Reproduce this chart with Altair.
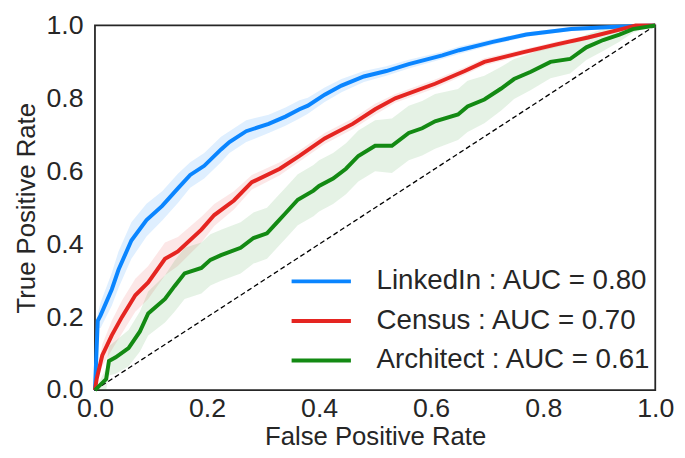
import altair as alt
import pandas as pd

# ---- data ----
labels = ["LinkedIn : AUC = 0.80", "Census : AUC = 0.70", "Architect : AUC = 0.61"]
colors = ["#0a85ff", "#e52521", "#138a13"]

linkedin_fpr = [0, .005, .01, .03, .042, .065, .092, .12, .148, .17, .195, .225, .24, .27, .31, .34, .365, .38,
                .41, .44, .48, .52, .56, .62, .65, .71, .77, .85, .94, 1.0]
linkedin_tpr = [0, .19, .205, .276, .33, .41, .466, .505, .553, .59, .615, .66, .68, .71, .73, .75, .77, .78,
                .81, .835, .86, .875, .894, .918, .932, .955, .975, .99, .997, 1.0]
linkedin_err = [0, .02, .035, .045, .05, .05, .045, .04, .04, .035, .035, .035, .03, .03, .025, .025, .025, .022,
                .02, .018, .015, .013, .012, .01, .01, .008, .006, .005, .003, 0]

census_fpr = [0, .003, .013, .03, .048, .072, .095, .125, .148, .19, .213, .248, .28, .33, .365, .41, .46,
              .50, .536, .607, .66, .695, .765, .824, .88, .94, .965, 1.0]
census_tpr = [0, .03, .095, .15, .20, .26, .295, .36, .38, .44, .48, .52, .57, .607, .642, .69, .73,
              .77, .80, .84, .875, .9, .927, .948, .967, .99, 1.0, 1.0]
census_err = [0, .01, .03, .04, .045, .045, .045, .045, .04, .035, .03, .025, .02, .018, .015, .015, .015,
              .015, .012, .012, .01, .01, .008, .008, .006, .004, .002, 0]

architect_fpr = [0, .02, .025, .037, .06, .08, .095, .125, .142, .16, .19, .206, .225, .26, .283, .307, .325,
                 .34, .362, .39, .40, .425, .448, .47, .50, .53, .56, .584, .607, .648, .665, .695, .725,
                 .748, .778, .813, .848, .877, .907, .936, .96, 1.0]
architect_tpr = [0, .03, .08, .09, .115, .16, .21, .25, .285, .32, .335, .357, .37, .39, .417, .43, .46,
                 .485, .522, .547, .56, .58, .607, .642, .67, .67, .705, .718, .737, .756, .778, .797, .827,
                 .853, .873, .90, .908, .94, .96, .975, .99, 1.0]
architect_err = [0, .03, .04, .045, .05, .055, .06, .065, .07, .07, .07, .07, .07, .07, .07, .07, .07,
                 .07, .07, .07, .07, .07, .07, .07, .07, .075, .075, .075, .075, .07, .07, .065, .06,
                 .055, .05, .045, .04, .035, .03, .02, .01, 0]

diag = [0.0, 1.0]
tick_values = [0.0, 0.2, 0.4, 0.6, 0.8, 1.0]

series = [(labels[0], linkedin_fpr, linkedin_tpr, linkedin_err),
          (labels[1], census_fpr, census_tpr, census_err),
          (labels[2], architect_fpr, architect_tpr, architect_err)]

rows = []
for lab, fx, ty, er in series:
    for i, (a, b, e) in enumerate(zip(fx, ty, er)):
        rows.append({"model": lab, "fpr": a, "tpr": b,
                     "lo": max(0.0, b - e), "hi": min(1.0, b + e), "i": i})
df = pd.DataFrame(rows)
diag_df = pd.DataFrame({"fpr": diag, "tpr": diag})

FONT = "Liberation Sans"
TXT = "#262626"

xscale = alt.Scale(domain=[0, 1], nice=False)
yscale = alt.Scale(domain=[0, 1], nice=False)
xaxis = alt.Axis(title="False Positive Rate", values=tick_values, format=".1f")
yaxis = alt.Axis(title="True Positive Rate", values=tick_values, format=".1f")

band_layers = []
for lab, col, op in zip(labels, colors, [0.13, 0.11, 0.11]):
    band_layers.append(
        alt.Chart(df).transform_filter(alt.datum.model == lab).mark_area(
            opacity=op, color=col, interpolate="linear"
        ).encode(
            x=alt.X("fpr:Q", scale=xscale, axis=xaxis),
            y=alt.Y("lo:Q", scale=yscale, axis=yaxis),
            y2="hi:Q",
        )
    )

diag_line = alt.Chart(diag_df).mark_line(color="black", strokeWidth=1.3, strokeDash=[5, 3]).encode(
    x="fpr:Q", y="tpr:Q"
)

lines = alt.Chart(df).mark_line(strokeWidth=4).encode(
    x="fpr:Q",
    y="tpr:Q",
    color=alt.Color("model:N", sort=labels, scale=alt.Scale(domain=labels, range=colors),
                    legend=alt.Legend(orient="none", legendX=197, legendY=239, title=None,
                                      symbolType="stroke", symbolSize=3600, symbolStrokeWidth=4,
                                      labelFontSize=28, labelFont=FONT, labelColor=TXT,
                                      labelLimit=500, labelOffset=24, rowPadding=0,
                                      clipHeight=40)),
    order="i:Q",
)

chart = alt.layer(*band_layers, diag_line, lines).properties(
    width=567, height=369,
    autosize=alt.AutoSizeParams(type="none"),
    padding={"left": 88, "top": 15, "right": 22, "bottom": 58},
).configure_view(
    stroke="#262626", strokeWidth=1.8
).configure_axis(
    grid=False, ticks=False, domain=False,
    labelFont=FONT, labelFontSize=27, labelColor=TXT,
    titleFont=FONT, titleFontSize=26, titleColor=TXT, titleFontWeight="normal",
    labelFlush=False, labelOverlap=False,
).configure_axisX(
    labelPadding=6, titlePadding=2
).configure_axisY(
    labelPadding=12, titlePadding=7
)

chart.save("out.html", embed_options={"renderer": "svg", "actions": False})
